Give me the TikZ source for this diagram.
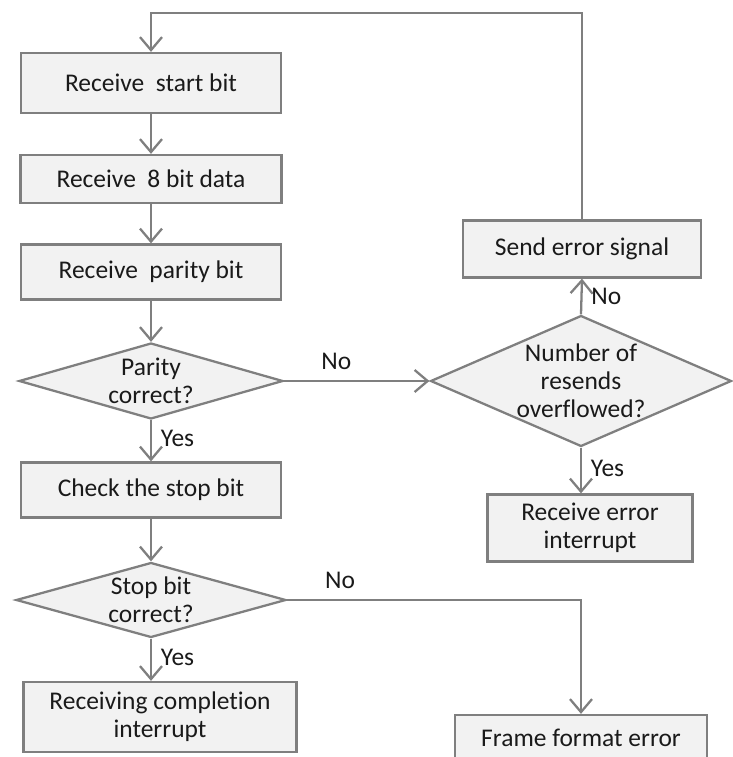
\documentclass[tikz,border=0pt]{standalone}
\usepackage{fontspec}
\setmainfont{Carlito}[Ligatures=NoCommon]
\usepackage{tikz}
\usepackage{xcolor}
\usetikzlibrary{shapes.geometric, arrows.meta, positioning, calc}
\definecolor{boxfill}{HTML}{F2F2F2}
\definecolor{edgegray}{HTML}{7F7F7F}
\definecolor{inkdark}{HTML}{1A1A1A}
\tikzstyle{process} = [rectangle, text centered, draw=edgegray, fill=boxfill,
                       line width=1.3pt, inner sep=2pt, align=center, text=inkdark]
\tikzstyle{decision} = [diamond, text centered, draw=edgegray, fill=boxfill,
                        line width=1.3pt, inner sep=0pt, align=center, text=inkdark]
\tikzstyle{arrow} = [-{Straight Barb[length=2.6mm, width=4.4mm]}, draw=edgegray, line width=1.3pt]
\tikzstyle{lbl} = [text=inkdark, inner sep=2pt]

\begin{document}
\begin{tikzpicture}[x=0.02cm, y=-0.02cm, font=\fontsize{14.5pt}{16pt}\selectfont]
\useasboundingbox (0,0) rectangle (733,757);
% left column
\node[process, minimum width=5.2cm, minimum height=1.2cm] (start) at (151,83) {Receive\ \ start bit};
\node[process, minimum width=5.22cm, minimum height=0.96cm] (data) at (151,179) {Receive\ \ 8 bit data};
\node[process, minimum width=5.2cm, minimum height=1.1cm] (parity) at (151,272) {Receive\ \ parity bit};
\node[decision, shape aspect=3.4, minimum width=5.28cm, minimum height=1.52cm] (pardec) at (151,381) {Parity\\correct?};
\node[process, minimum width=5.2cm, minimum height=1.1cm] (check) at (151,490) {Check the stop bit};
\node[decision, shape aspect=3.4, minimum width=5.4cm, minimum height=1.5cm] (stopdec) at (151,600) {Stop bit\\correct?};
\node[process, minimum width=5.46cm, minimum height=1.4cm] (complete) at (160,717) {Receiving completion\\interrupt};
% right column
\node[process, minimum width=4.76cm, minimum height=1.14cm] (senderr) at (582,249) {Send error signal};
\node[decision, shape aspect=2.3, inner sep=-0.04cm, minimum width=6.02cm, minimum height=2.62cm] (resend) at (581,381) {Number of\\resends\\overflowed?};
\node[process, minimum width=4.1cm, minimum height=1.34cm] (rcverr) at (590,528) {Receive error\\interrupt};
\node[process, minimum width=5.04cm, minimum height=0.92cm] (frame) at (581,738) {Frame format error};
\coordinate (loop) at (151,13);

% connectors
\draw[arrow] (start) -- (data);
\draw[arrow] (data) -- (parity);
\draw[arrow] (parity) -- (pardec);
\draw[arrow] (pardec) -- node[lbl, right=3pt, pos=0.45] {Yes} (check);
\draw[arrow] (pardec.east) -- node[lbl, above=4pt, pos=0.36] {No} (resend.west);
\draw[arrow] (resend.north) -- node[lbl, right=3pt, pos=0.5] {No} (senderr.south);
\draw[arrow] (resend.south) -- node[lbl, right=3pt, pos=0.45] {Yes} (resend.south |- rcverr.north);
\draw[arrow] (senderr.north) |- (loop) -- (start.north);
\draw[arrow] (check) -- (stopdec);
\draw[arrow] (stopdec.south) -- node[lbl, right=3pt, pos=0.45] {Yes} (stopdec.south |- complete.north);
\draw[arrow] (stopdec.east) -| node[lbl, above=4pt, pos=0.09] {No} (frame.north);
\end{tikzpicture}
\end{document}
